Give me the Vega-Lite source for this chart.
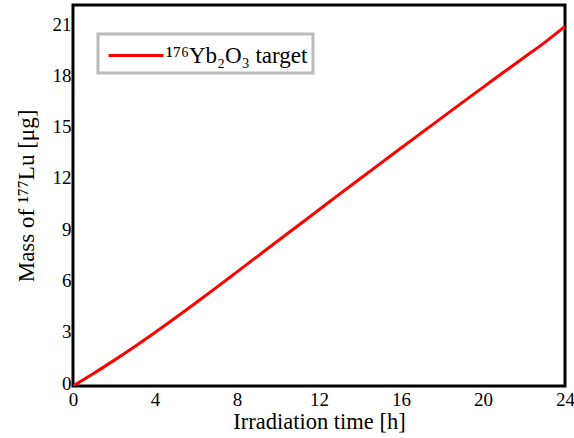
{
  "$schema": "https://vega.github.io/schema/vega-lite/v6.json",
  "width": 492,
  "height": 381,
  "autosize": "none",
  "padding": {"left": 73, "top": 5, "right": 9, "bottom": 52},
  "background": "white",
  "config": {
    "view": {"stroke": "black", "strokeWidth": 3},
    "font": "Liberation Serif"
  },
  "data": {
    "values": [
      {"t": 0, "m": 0, "s": "¹⁷⁶Yb₂O₃ target"},
      {"t": 1, "m": 0.73, "s": "¹⁷⁶Yb₂O₃ target"},
      {"t": 2, "m": 1.5, "s": "¹⁷⁶Yb₂O₃ target"},
      {"t": 3, "m": 2.3, "s": "¹⁷⁶Yb₂O₃ target"},
      {"t": 4, "m": 3.13, "s": "¹⁷⁶Yb₂O₃ target"},
      {"t": 5, "m": 3.99, "s": "¹⁷⁶Yb₂O₃ target"},
      {"t": 6, "m": 4.87, "s": "¹⁷⁶Yb₂O₃ target"},
      {"t": 7, "m": 5.77, "s": "¹⁷⁶Yb₂O₃ target"},
      {"t": 8, "m": 6.68, "s": "¹⁷⁶Yb₂O₃ target"},
      {"t": 9, "m": 7.59, "s": "¹⁷⁶Yb₂O₃ target"},
      {"t": 10, "m": 8.5, "s": "¹⁷⁶Yb₂O₃ target"},
      {"t": 11, "m": 9.41, "s": "¹⁷⁶Yb₂O₃ target"},
      {"t": 12, "m": 10.32, "s": "¹⁷⁶Yb₂O₃ target"},
      {"t": 13, "m": 11.23, "s": "¹⁷⁶Yb₂O₃ target"},
      {"t": 14, "m": 12.13, "s": "¹⁷⁶Yb₂O₃ target"},
      {"t": 15, "m": 13.03, "s": "¹⁷⁶Yb₂O₃ target"},
      {"t": 16, "m": 13.93, "s": "¹⁷⁶Yb₂O₃ target"},
      {"t": 17, "m": 14.82, "s": "¹⁷⁶Yb₂O₃ target"},
      {"t": 18, "m": 15.71, "s": "¹⁷⁶Yb₂O₃ target"},
      {"t": 19, "m": 16.6, "s": "¹⁷⁶Yb₂O₃ target"},
      {"t": 20, "m": 17.48, "s": "¹⁷⁶Yb₂O₃ target"},
      {"t": 21, "m": 18.36, "s": "¹⁷⁶Yb₂O₃ target"},
      {"t": 22, "m": 19.23, "s": "¹⁷⁶Yb₂O₃ target"},
      {"t": 23, "m": 20.1, "s": "¹⁷⁶Yb₂O₃ target"},
      {"t": 24, "m": 21.05, "s": "¹⁷⁶Yb₂O₃ target"}
    ]
  },
  "mark": {"type": "line", "strokeWidth": 3, "interpolate": "monotone", "clip": true},
  "encoding": {
    "x": {
      "field": "t", "type": "quantitative",
      "scale": {"domain": [0, 24], "nice": false},
      "axis": {
        "values": [0, 4, 8, 12, 16, 20, 24],
        "title": "Irradiation time [h]",
        "grid": false, "domain": false, "ticks": false,
        "labelFontSize": 19, "labelColor": "black", "labelPadding": 4,
        "labelFlush": false,
        "titleFontSize": 22.5, "titleFontWeight": "normal", "titleColor": "black", "titlePadding": 1
      }
    },
    "y": {
      "field": "m", "type": "quantitative",
      "scale": {"domain": [0, 22.3], "nice": false},
      "axis": {
        "values": [0, 3, 6, 9, 12, 15, 18, 21],
        "title": "Mass of ¹⁷⁷Lu [μg]",
        "grid": false, "domain": false, "ticks": false,
        "labelFontSize": 19, "labelColor": "black", "labelPadding": 2, "labelOffset": -3,
        "labelFlush": false,
        "titleFontSize": 23, "titleFontWeight": "normal", "titleColor": "black", "titlePadding": 14
      }
    },
    "color": {
      "field": "s", "type": "nominal",
      "scale": {"range": ["#ff0000"]},
      "legend": {
        "title": null,
        "orient": "none", "legendX": 25, "legendY": 29,
        "symbolType": "M-0.73,0H2.93", "symbolSize": 900, "symbolStrokeWidth": 3,
        "symbolFillColor": "transparent",
        "labelFontSize": 23, "labelColor": "black", "labelLimit": 300, "labelOffset": 30,
        "strokeColor": "#bbbbbb", "padding": 5, "cornerRadius": 0,
        "fillColor": "white",
        "encode": {"legend": {"update": {"strokeWidth": {"value": 3}}}}
      }
    }
  }
}
